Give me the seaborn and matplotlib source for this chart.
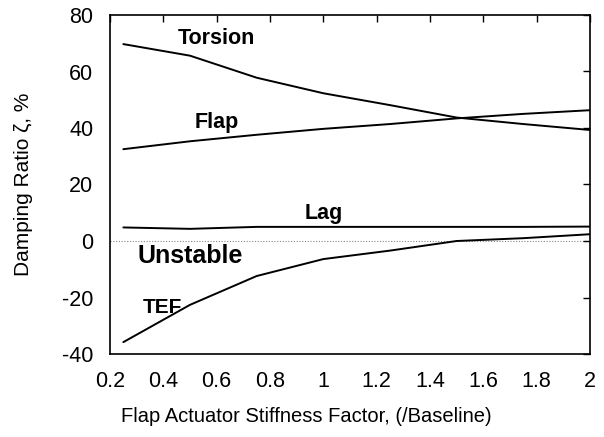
import matplotlib
matplotlib.use("Agg")
import matplotlib.pyplot as plt
import seaborn as sns
import pandas as pd

x_vals = [0.25, 0.5, 0.75, 1.0, 1.25, 1.5, 1.75, 2.0]
torsion = [69.7, 65.6, 57.8, 52.3, 48.1, 43.7, 41.4, 39.3]
flap = [32.5, 35.3, 37.6, 39.7, 41.4, 43.4, 45.0, 46.3]
lag = [4.8, 4.3, 5.0, 5.0, 5.0, 5.0, 5.0, 5.1]
tef = [-35.8, -22.6, -12.4, -6.4, -3.4, 0.0, 1.0, 2.4]

xticks = [0.2, 0.4, 0.6, 0.8, 1, 1.2, 1.4, 1.6, 1.8, 2]
yticks = [-40, -20, 0, 20, 40, 60, 80]

sns.set_theme(style="white")
plt.rcParams['font.family'] = ['Liberation Sans', 'DejaVu Sans']
plt.rcParams['axes.unicode_minus'] = False
plt.rcParams['text.color'] = 'black'
plt.rcParams['axes.labelcolor'] = 'black'

df = pd.DataFrame({
    "x": x_vals * 4,
    "y": torsion + flap + lag + tef,
    "mode": ["Torsion"] * 8 + ["Flap"] * 8 + ["Lag"] * 8 + ["TEF"] * 8,
})

fig = plt.figure(figsize=(6.04, 4.37), dpi=100)
ax = fig.add_axes([110 / 604, 1 - 354 / 437, 480 / 604, 339 / 437])
sns.lineplot(data=df, x="x", y="y", units="mode", estimator=None, color="black",
             linewidth=1.4, ax=ax, legend=False)
ax.axhline(0, color="#888888", linestyle=(0, (1, 1.5)), linewidth=0.8, zorder=0)

ax.set_xlim(0.2, 2)
ax.set_ylim(-40, 80)
ax.set_xticks(xticks)
ax.set_xticklabels([f"{t:g}" for t in xticks])
ax.set_yticks(yticks)
ax.tick_params(direction="in", top=True, right=True, length=5, width=1,
               labelsize=15.5, colors="black")
ax.tick_params(axis="x", pad=12)
ax.tick_params(axis="y", pad=12)
for s in ax.spines.values():
    s.set_color("black")
    s.set_linewidth(1.2)

ax.set_xlabel("Flap Actuator Stiffness Factor, (/Baseline)", fontsize=14.5)
ax.xaxis.set_label_coords((306 - 110) / 480, -(416 - 354) / 339)
ax.xaxis.label.set_va("center")
ax.set_ylabel("Damping Ratio ζ, %", fontsize=15)
ax.yaxis.set_label_coords(-(110 - 24) / 480, 0.5)
ax.yaxis.label.set_va("center")

ax.text(0.6, 71.6, "Torsion", fontsize=15.5, fontweight="bold", ha="center", va="center")
ax.text(0.6, 42, "Flap", fontsize=15.5, fontweight="bold", ha="center", va="center")
ax.text(1.0, 9.7, "Lag", fontsize=15.5, fontweight="bold", ha="center", va="center")
ax.text(0.5, -5.2, "Unstable", fontsize=18, fontweight="bold", ha="center", va="center")
ax.text(0.397, -23.4, "TEF", fontsize=15, fontweight="bold", ha="center", va="center")

fig.savefig("out.png", dpi=100)
